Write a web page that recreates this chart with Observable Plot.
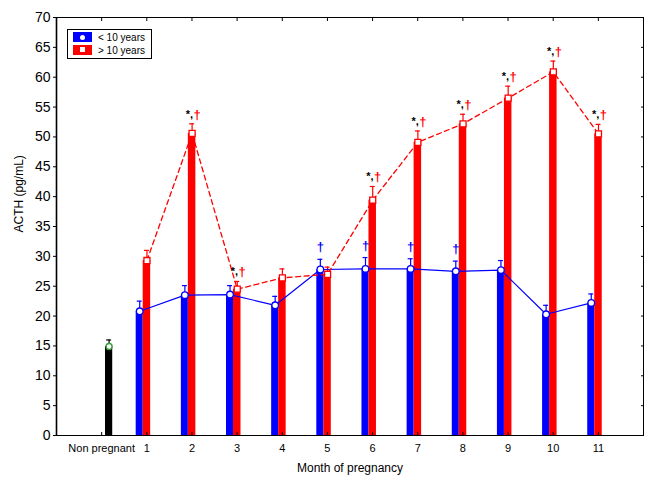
<!DOCTYPE html>
<html><head><meta charset="utf-8">
<script src="https://cdn.jsdelivr.net/npm/d3@7"></script>
<script src="https://cdn.jsdelivr.net/npm/@observablehq/plot@0.6"></script>
<style>
body{margin:0;background:#fff;font-family:"Liberation Sans",Arial,sans-serif}
#wrap{position:relative;width:655px;height:489px}
.legend{position:absolute;left:67px;top:29px;width:83px;height:28px;border:1px solid #000;background:#fff;font-size:10px;color:#000}
.row{position:absolute;left:5px;height:11px;line-height:11px}
.sw{position:absolute;left:0;top:0;width:19px;height:10px}
.mk{position:absolute;left:7px;top:2.5px;width:5px;height:5px;background:#fff}
.lab{position:absolute;left:25px;top:0;white-space:nowrap}
</style>
</head><body>
<div id="wrap"></div>
<script>
// ---- data ----
const months = [1,2,3,4,5,6,7,8,9,10,11];
const xTickLabels = ["Non pregnant","1","2","3","4","5","6","7","8","9","10","11"];
const under10 = [20.8,23.5,23.6,21.8,27.8,27.9,27.9,27.5,27.7,20.3,22.2];
const under10Upper = [22.5,25.1,25.1,23.3,29.5,29.8,29.6,29.2,29.3,21.8,23.7];
const over10 = [29.3,50.6,24.5,26.4,27.0,39.4,49.1,52.2,56.5,60.9,50.5];
const over10Upper = [31.0,52.2,25.8,27.9,28.2,41.7,51.0,53.8,58.5,62.7,52.1];
const nonPregnantValue = [14.9];
const nonPregnantUpper = [16.0];
const starDaggerMonths = [2,3,6,7,8,9,10,11];
const blueDaggerMonths = [5,6,7,8];
const yTicks = [0,5,10,15,20,25,30,35,40,45,50,55,60,65,70];
const seriesNames = ["< 10 years","> 10 years"];

// ---- build tables ----
const rows = months.map((m,i)=>({m, u:under10[i], uu:under10Upper[i], o:over10[i], ou:over10Upper[i]}));
const np = nonPregnantValue.map((v,i)=>({m:0, v, up:nonPregnantUpper[i]}));
const starRows = rows.filter(d=>starDaggerMonths.includes(d.m));
const daggerRows = rows.filter(d=>blueDaggerMonths.includes(d.m));

const BLUE="#0000ff", RED="#ff0000", GREEN="#3a9a3a";
const offB=-0.157, offR=0.003, offK=0.165, cap=0.055;

const chart = Plot.plot({
  width:655, height:489,
  marginLeft:56, marginRight:12, marginTop:17, marginBottom:54,
  x:{domain:[-1,12]},
  y:{domain:[0,70]},
  style:{fontFamily:'"Liberation Sans", Arial, sans-serif', color:"#000", background:"#fff", overflow:"visible"},
  marks:[
    // bars
    Plot.rectY(rows,{x1:d=>d.m-0.235, x2:d=>d.m-0.08, y:"u", fill:BLUE}),
    Plot.rectY(rows,{x1:d=>d.m-0.08, x2:d=>d.m+0.086, y:"o", fill:RED}),
    Plot.rectY(np,{x1:d=>d.m+0.085, x2:d=>d.m+0.245, y:"v", fill:"#000"}),
    // error bars
    Plot.ruleX(rows,{x:d=>d.m+offB, y1:"u", y2:"uu", stroke:BLUE, strokeWidth:1.2}),
    Plot.ruleY(rows,{y:"uu", x1:d=>d.m+offB-cap, x2:d=>d.m+offB+cap, stroke:BLUE, strokeWidth:1.2}),
    Plot.ruleX(rows,{x:d=>d.m+offR, y1:"o", y2:"ou", stroke:RED, strokeWidth:1.2}),
    Plot.ruleY(rows,{y:"ou", x1:d=>d.m+offR-cap, x2:d=>d.m+offR+cap, stroke:RED, strokeWidth:1.2}),
    Plot.ruleX(np,{x:d=>d.m+offK, y1:"v", y2:"up", stroke:"#000", strokeWidth:1.2}),
    Plot.ruleY(np,{y:"up", x1:d=>d.m+offK-cap, x2:d=>d.m+offK+cap, stroke:"#000", strokeWidth:1.2}),
    // lines
    Plot.line(rows,{x:d=>d.m+offB, y:"u", stroke:BLUE, strokeWidth:1.2}),
    Plot.line(rows,{x:d=>d.m+offR, y:"o", stroke:RED, strokeWidth:1.3, strokeDasharray:"5,3.5"}),
    // markers
    Plot.dot(rows,{x:d=>d.m+offB, y:"u", r:3.3, fill:"#fff", stroke:BLUE, strokeWidth:1.3}),
    Plot.dot(rows,{x:d=>d.m+offR, y:"o", r:3.4, symbol:"square", fill:"#fff", stroke:RED, strokeWidth:1.3}),
    Plot.dot(np,{x:d=>d.m+offK, y:"v", r:3, fill:"#fff", stroke:GREEN, strokeWidth:1.4}),
    // annotations
    Plot.text(starRows,{x:d=>d.m+offR+0.02, y:"ou", text:()=>"*,", textAnchor:"end", lineAnchor:"bottom", dy:-6, fontSize:11, fontWeight:"bold", fill:"#000"}),
    Plot.text(starRows,{x:d=>d.m+offR+0.03, y:"ou", text:()=>"†", textAnchor:"start", lineAnchor:"bottom", dy:-5, fontSize:13, fontWeight:"bold", fill:RED}),
    Plot.text(daggerRows,{x:d=>d.m+offB, y:"uu", text:()=>"†", lineAnchor:"bottom", dy:-8, fontSize:13, fontWeight:"bold", fill:BLUE}),
    // axes
    Plot.frame({stroke:"#000", strokeWidth:1}),
    Plot.ruleX([-1],{stroke:"#000", strokeWidth:1.6}),
    Plot.axisY({ticks:yTicks, tickSize:3, tickPadding:3, fontSize:14, label:null}),
    Plot.axisY({anchor:"right", ticks:yTicks, tickSize:-3, tickFormat:()=>"", label:null}),
    Plot.axisX({anchor:"bottom", ticks:d3.range(xTickLabels.length), tickSize:-3, tickPadding:12, tickFormat:i=>xTickLabels[i], fontSize:11, label:null}),
    Plot.axisX({anchor:"top", ticks:d3.range(xTickLabels.length), tickSize:-3, tickFormat:()=>"", label:null}),
    Plot.text(["Month of pregnancy"],{frameAnchor:"bottom", dy:36, fontSize:12, fill:"#000"}),
    Plot.text(["ACTH (pg/mL)"],{frameAnchor:"left", dx:-37, dy:6, rotate:-90, fontSize:12, fill:"#000"})
  ]
});
const wrap = document.getElementById("wrap");
wrap.appendChild(chart);

// legend
const lg = document.createElement("div");
lg.className = "legend";
const colors = [BLUE, RED];
seriesNames.forEach((name,i)=>{
  const r = document.createElement("div");
  r.className = "row";
  r.style.top = (2 + i*12.5) + "px";
  r.innerHTML = `<div class="sw" style="background:${colors[i]}"><div class="mk" style="border-radius:${i===0?'50%':'0'}"></div></div><div class="lab">${name.replace("<","&lt;").replace(">","&gt;")}</div>`;
  lg.appendChild(r);
});
wrap.appendChild(lg);
</script>
</body></html>
